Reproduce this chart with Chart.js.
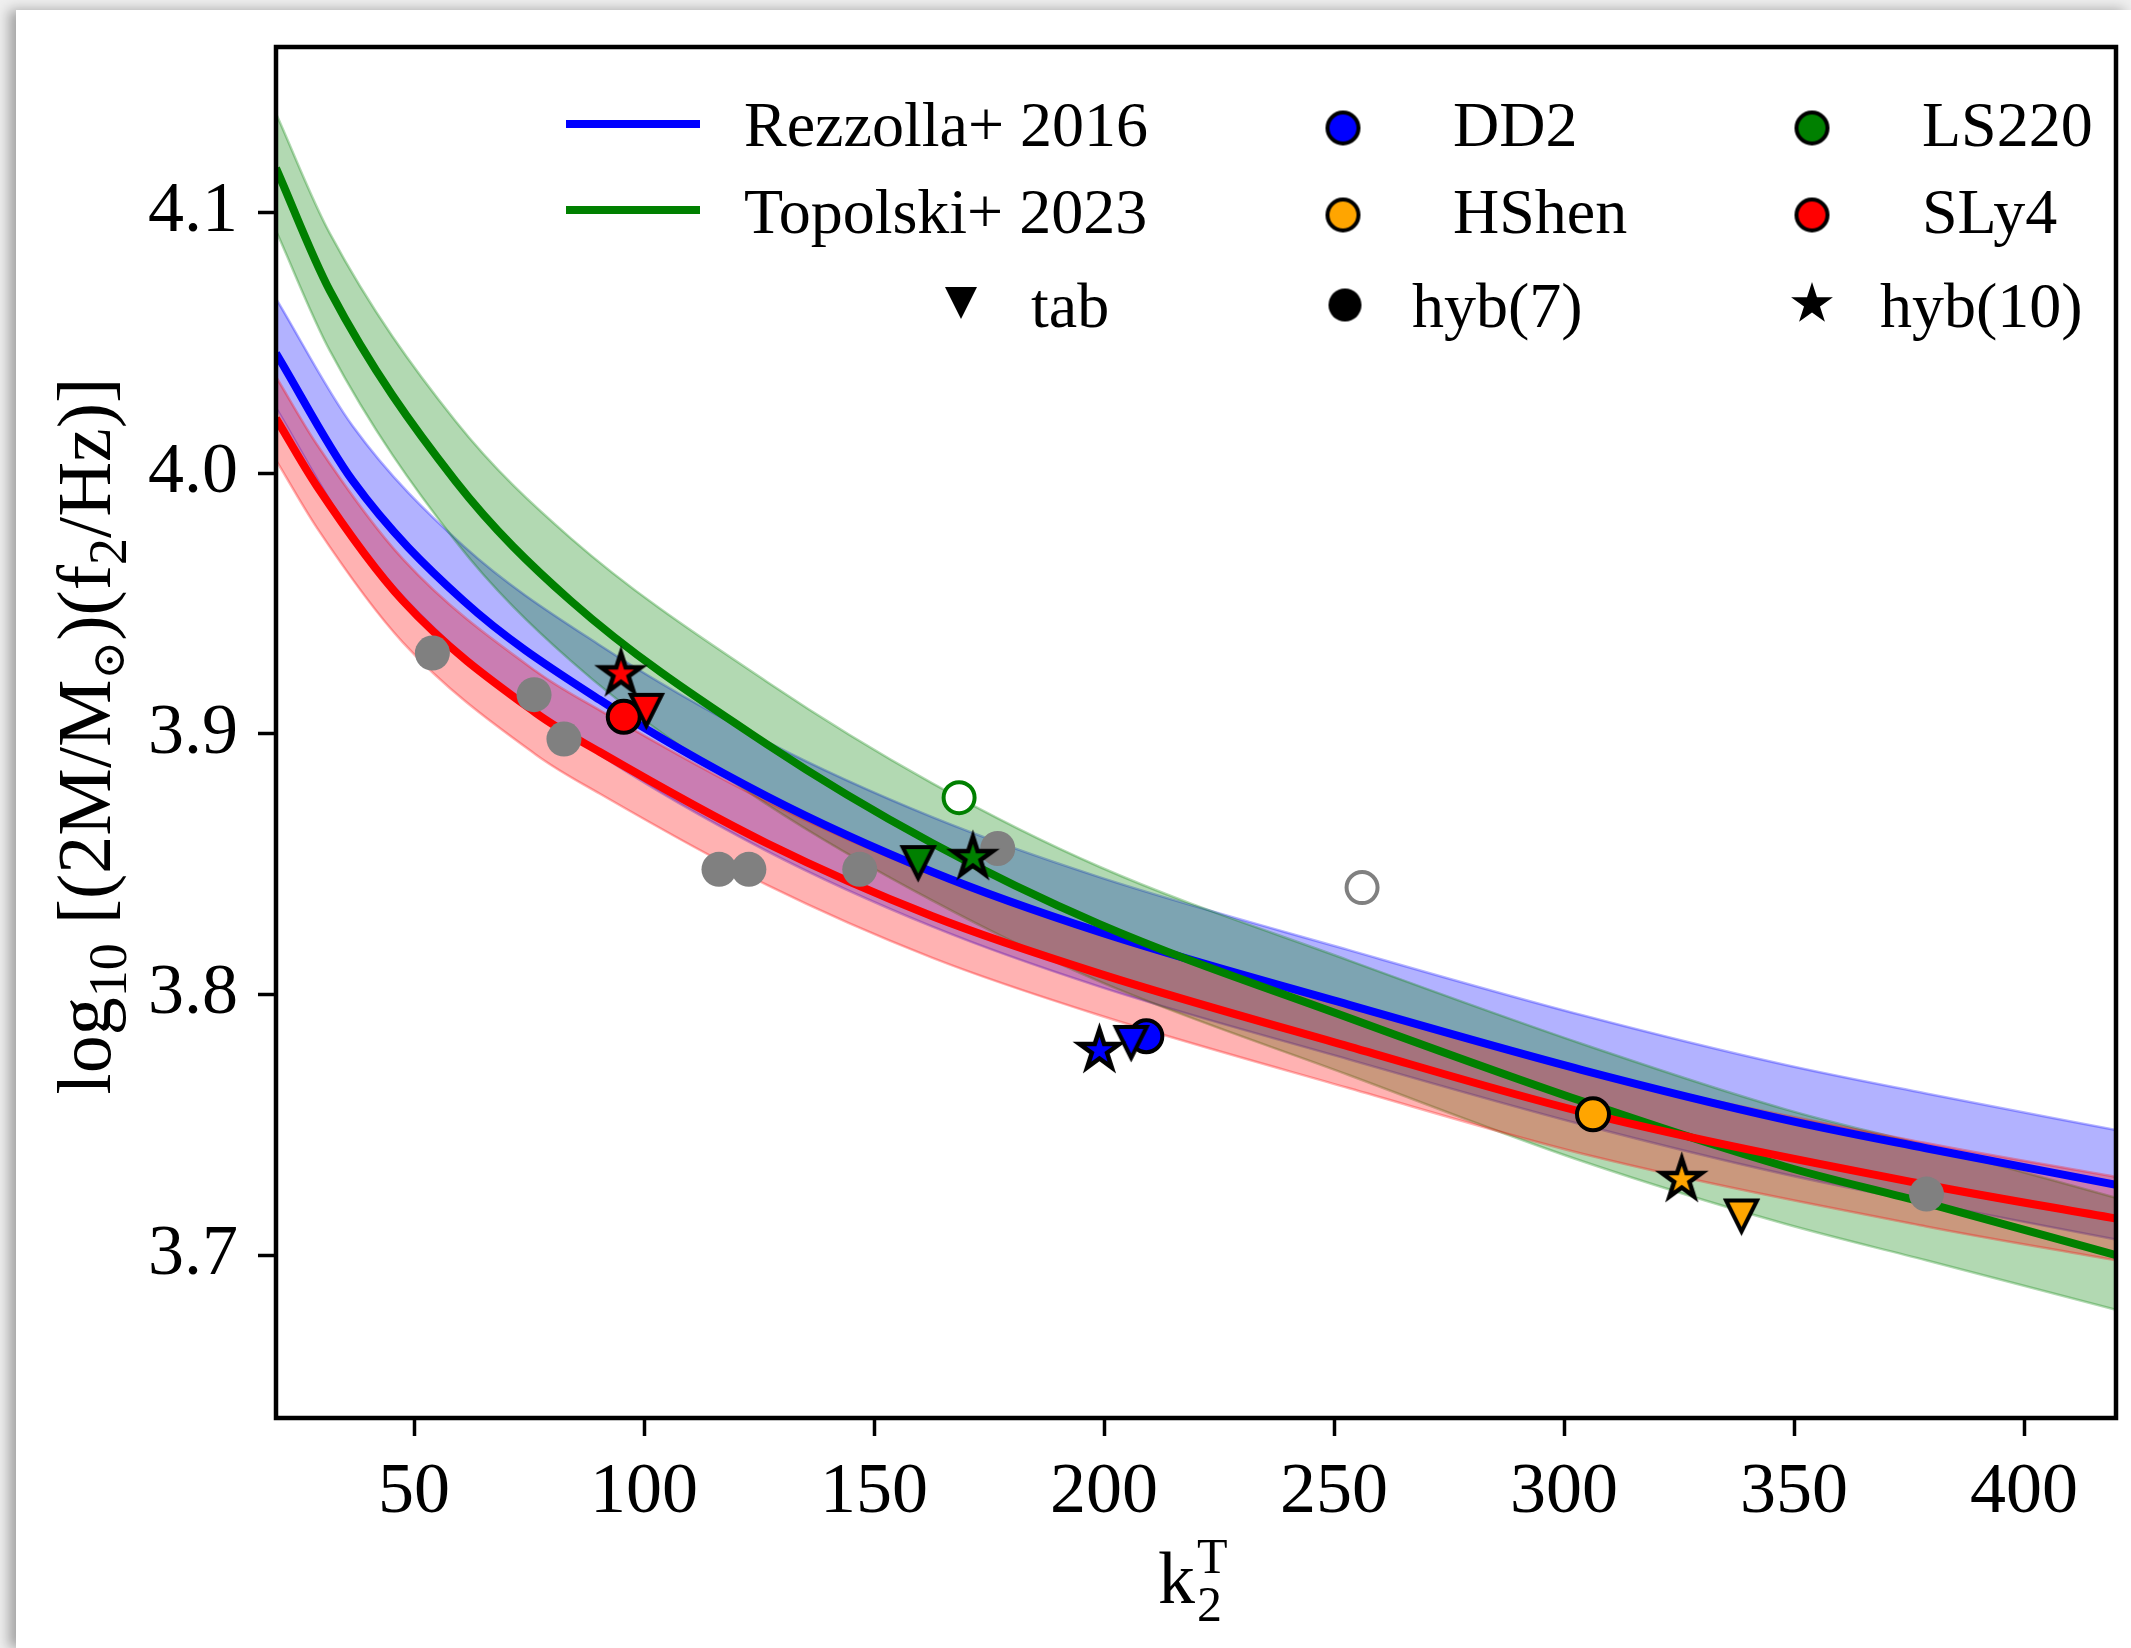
<!DOCTYPE html>
<html>
<head>
<meta charset="utf-8">
<title>log10 f2 vs k2T</title>
<script src="https://cdn.jsdelivr.net/npm/chart.js@4.4.1/dist/chart.umd.min.js"></script>
<style>
html, body { margin: 0; padding: 0; background: #efefef; overflow: hidden; }
#card { position: absolute; left: 16px; top: 10px; width: 2115px; height: 1638px; background: #fff; box-shadow: -7px 0 12px rgba(0,0,0,0.32); }
#wrap { position: absolute; left: 0; top: 0; width: 2131px; height: 1648px; }
</style>
</head>
<body>
<div id="card"></div>
<div id="wrap"><canvas id="chart"></canvas></div>
<script>
// ---- values ----
var xTicks = [50, 100, 150, 200, 250, 300, 350, 400];
var yTicks = [3.7, 3.8, 3.9, 4.0, 4.1];

// Rezzolla+ 2016 fit and its band
var rezK   = [20, 36.7, 60.8, 90.4, 126.7, 162.7, 199, 253.3, 304, 348, 378.7, 420];
var rezMid = [4.046, 3.997, 3.951, 3.913, 3.876, 3.847, 3.824, 3.796, 3.771, 3.752, 3.741, 3.727];
var rezHi  = [4.067, 4.018, 3.972, 3.934, 3.897, 3.868, 3.845, 3.817, 3.792, 3.773, 3.762, 3.748];
var rezLo  = [4.025, 3.976, 3.930, 3.892, 3.855, 3.826, 3.803, 3.775, 3.750, 3.731, 3.720, 3.706];

// Topolski+ 2023 fit and its band
var topK   = [20, 31.7, 59, 84.1, 126.7, 162.7, 199, 253.3, 304, 348, 378.7, 420];
var topMid = [4.117, 4.070, 3.997, 3.951, 3.896, 3.858, 3.827, 3.791, 3.759, 3.734, 3.720, 3.700];
var topHi  = [4.138, 4.092, 4.020, 3.975, 3.920, 3.881, 3.849, 3.813, 3.781, 3.756, 3.742, 3.722];
var topLo  = [4.093, 4.047, 3.974, 3.928, 3.873, 3.836, 3.805, 3.769, 3.736, 3.712, 3.698, 3.679];

// red fit and its band
var redK   = [20, 28.9, 47.6, 76.5, 90.4, 126.7, 162.7, 199, 253.3, 306, 378.7, 420];
var redMid = [4.021, 3.995, 3.951, 3.908, 3.893, 3.858, 3.830, 3.808, 3.780, 3.754, 3.727, 3.714];
var redHi  = [4.037, 4.011, 3.967, 3.924, 3.909, 3.874, 3.846, 3.824, 3.796, 3.770, 3.743, 3.730];
var redLo  = [4.005, 3.979, 3.935, 3.892, 3.877, 3.842, 3.814, 3.792, 3.764, 3.738, 3.711, 3.698];

// EOS points, order DD2, HShen, LS220, SLy4
var tabK   = [205.9, 338.6, 159.6, 100.5];
var tabF   = [3.7816, 3.7150, 3.8506, 3.9090];
var hyb10K = [199.0, 325.6, 171.5, 95.0];
var hyb10F = [3.7785, 3.7290, 3.8525, 3.9230];
// hyb(7): DD2, HShen, SLy4 (LS220 is the open one)
var hyb7K  = [209.2, 306.3, 95.6];
var hyb7F  = [3.7840, 3.7540, 3.9065];
var openK  = [168.5];
var openF  = [3.8755];
// other models in grey
var greyK  = [54.0, 76.1, 82.6, 116.3, 122.8, 146.9, 176.9, 378.8];
var greyF  = [3.931, 3.915, 3.898, 3.848, 3.848, 3.848, 3.856, 3.7234];
var greyOpenK = [256.1];
var greyOpenF = [3.841];

var BLUE = '#0000ff', GREEN = '#008000', RED = '#ff0000', ORANGE = '#ffa500', GREY = '#808080';
var SERIF = '"Liberation Serif", "DejaVu Serif", serif';

function pts(xs, ys) {
    return xs.map(function (x, i) { return { x: x, y: ys[i] }; });
}

// marker glyphs like matplotlib's 'v' and '*'
function markerCanvas(shape, fill, edge, lw, size) {
    var dim = Math.ceil(size + lw * 5 + 6);
    var c = document.createElement('canvas');
    c.width = dim; c.height = dim;
    var g = c.getContext('2d');
    g.translate(dim / 2, dim / 2);
    g.beginPath();
    if (shape === 'tri') {
        var h = size / 2;
        g.moveTo(0, h); g.lineTo(-h, -h); g.lineTo(h, -h); g.closePath();
    } else if (shape === 'star') {
        var r = size / 2, ri = r * 0.381966;
        for (var i = 0; i < 10; i++) {
            var a = -Math.PI / 2 + i * Math.PI / 5;
            var rr = (i % 2) ? ri : r;
            g.lineTo(rr * Math.cos(a), rr * Math.sin(a));
        }
        g.closePath();
    } else {
        g.arc(0, 0, size / 2, 0, Math.PI * 2);
    }
    g.fillStyle = fill; g.fill();
    if (lw > 0) {
        g.lineWidth = lw; g.lineJoin = 'miter'; g.strokeStyle = edge; g.stroke();
    }
    return c;
}

var tabColors = [BLUE, ORANGE, GREEN, RED];
var hyb7Colors = [BLUE, ORANGE, RED];
var tabStyles = tabColors.map(function (c) { return markerCanvas('tri', c, '#000', 4, 31); });
var starStyles = tabColors.map(function (c) { return markerCanvas('star', c, '#000', 4.5, 42); });

function band(xs, ys, color, order) {
    return { data: pts(xs, ys), borderColor: color, borderWidth: 2.5, pointRadius: 0,
             cubicInterpolationMode: 'monotone', fill: false, order: order };
}
function fitLine(xs, ys, color, order) {
    return { data: pts(xs, ys), borderColor: color, borderWidth: 8, pointRadius: 0,
             cubicInterpolationMode: 'monotone', fill: false, order: order };
}

var datasets = [
    band(rezK, rezHi, 'rgba(0,0,255,0.3)', 100),
    band(rezK, rezLo, 'rgba(0,0,255,0.3)', 99),
    band(topK, topHi, 'rgba(0,128,0,0.3)', 98),
    band(topK, topLo, 'rgba(0,128,0,0.3)', 97),
    band(redK, redHi, 'rgba(255,0,0,0.3)', 96),
    band(redK, redLo, 'rgba(255,0,0,0.3)', 95),
    fitLine(rezK, rezMid, BLUE, 90),
    fitLine(topK, topMid, GREEN, 89),
    fitLine(redK, redMid, RED, 88),
    { data: pts(greyK, greyF), showLine: false, pointRadius: 17.5, pointBorderWidth: 0,
      pointBackgroundColor: GREY, pointBorderColor: GREY, order: 20 },
    { data: pts(greyOpenK, greyOpenF), showLine: false, pointRadius: 15.5, pointBorderWidth: 4,
      pointBackgroundColor: '#fff', pointBorderColor: GREY, order: 19 },
    { data: pts(openK, openF), showLine: false, pointRadius: 15.5, pointBorderWidth: 4,
      pointBackgroundColor: '#fff', pointBorderColor: GREEN, order: 18 },
    { data: pts(hyb7K, hyb7F), showLine: false, pointRadius: 16, pointBorderWidth: 4,
      pointBackgroundColor: hyb7Colors, pointBorderColor: '#000', order: 17 },
    { data: pts(tabK, tabF), showLine: false, pointStyle: tabStyles, pointRadius: 17, order: 16 },
    { data: pts(hyb10K, hyb10F), showLine: false, pointStyle: starStyles, pointRadius: 18, order: 15 }
];
// shade between the upper and lower band edges
datasets[1].fill = { target: 0 }; datasets[1].backgroundColor = 'rgba(0,0,255,0.3)';
datasets[3].fill = { target: 2 }; datasets[3].backgroundColor = 'rgba(0,128,0,0.3)';
datasets[5].fill = { target: 4 }; datasets[5].backgroundColor = 'rgba(255,0,0,0.3)';

function drawRuns(ctx, runs, x, y) {
    var w = 0;
    runs.forEach(function (r) { ctx.font = r[1] + 'px ' + SERIF; w += ctx.measureText(r[0]).width; });
    var cx = x - w / 2;
    runs.forEach(function (r) {
        ctx.font = r[1] + 'px ' + SERIF;
        ctx.fillText(r[0], cx, y + r[2]);
        cx += ctx.measureText(r[0]).width;
    });
}

function drawLegend(ctx) {
    ctx.textAlign = 'left';
    ctx.textBaseline = 'alphabetic';
    ctx.fillStyle = '#000';
    ctx.font = '64px ' + SERIF;
    // fit lines
    [[BLUE, 'Rezzolla+ 2016', 124, 146], [GREEN, 'Topolski+ 2023', 210, 233]].forEach(function (e) {
        ctx.strokeStyle = e[0]; ctx.lineWidth = 8;
        ctx.beginPath(); ctx.moveTo(566, e[2]); ctx.lineTo(700, e[2]); ctx.stroke();
        ctx.fillText(e[1], 744, e[3]);
    });
    function put(cv, x, y) { ctx.drawImage(cv, x - cv.width / 2, y - cv.height / 2); }
    // EOS colours
    [[BLUE, 'DD2', 1343, 128, 146], [ORANGE, 'HShen', 1343, 215, 233],
     [GREEN, 'LS220', 1812, 128, 146], [RED, 'SLy4', 1812, 215, 233]].forEach(function (e) {
        put(markerCanvas('circle', e[0], '#000', 4, 31), e[2], e[3]);
        ctx.fillText(e[1], e[2] + 110, e[4]);
    });
    // marker kinds
    put(markerCanvas('tri', '#000', '#000', 0, 32), 961, 303);
    ctx.fillText('tab', 1031, 327);
    put(markerCanvas('circle', '#000', '#000', 0, 33), 1345, 305);
    ctx.fillText('hyb(7)', 1412, 327);
    put(markerCanvas('star', '#000', '#000', 0, 44), 1812, 304);
    ctx.fillText('hyb(10)', 1880, 327);
}

function drawTitles(ctx) {
    ctx.fillStyle = '#000';
    ctx.textAlign = 'left';
    ctx.textBaseline = 'alphabetic';
    // x title: k_2^T
    ctx.font = '74px ' + SERIF;
    ctx.fillText('k', 1158, 1603);
    ctx.font = '50px ' + SERIF;
    ctx.fillText('T', 1197, 1573);
    ctx.fillText('2', 1197, 1621);
    // y title
    ctx.save();
    ctx.translate(110, 736);
    ctx.rotate(-Math.PI / 2);
    drawRuns(ctx, [['log', 76, 0], ['10', 54, 16], [' [(2M/M', 76, 0], ['\u2299', 46, 14],
                   [')(f', 76, 0], ['2', 54, 16], ['/Hz)]', 76, 0]], 0, 0);
    ctx.restore();
}

var decor = {
    id: 'decor',
    afterDraw: function (chart) {
        var ctx = chart.ctx, a = chart.chartArea;
        ctx.save();
        ctx.strokeStyle = '#000';
        ctx.lineWidth = 4.5;
        ctx.strokeRect(a.left, a.top, a.right - a.left, a.bottom - a.top);
        drawLegend(ctx);
        drawTitles(ctx);
        ctx.restore();
    }
};

Chart.defaults.font.family = SERIF;
Chart.defaults.color = '#000';

var ctx = document.getElementById('chart').getContext('2d');
var myChart = new Chart(ctx, {
    type: 'line',
    data: { datasets: datasets },
    plugins: [decor],
    options: {
        responsive: true,
        maintainAspectRatio: false,
        animation: false,
        devicePixelRatio: 1,
        layout: { autoPadding: false, padding: { left: 0, top: 47, right: 15, bottom: 0 } },
        plugins: { legend: { display: false }, tooltip: { enabled: false } },
        scales: {
            x: {
                type: 'linear', position: 'bottom', min: 20, max: 420,
                afterBuildTicks: function (s) { s.ticks = xTicks.map(function (v) { return { value: v }; }); },
                afterFit: function (s) { s.height = 230; s.paddingLeft = 0; s.paddingRight = 0; },
                grid: { drawOnChartArea: false, drawTicks: true, tickLength: 18, tickWidth: 3.5, tickColor: '#000' },
                border: { display: false },
                ticks: { font: { size: 72 }, color: '#000', padding: 14, maxRotation: 0,
                         callback: function (v) { return String(v); } }
            },
            y: {
                type: 'linear', position: 'left', min: 3.6375, max: 4.1635,
                afterBuildTicks: function (s) { s.ticks = yTicks.map(function (v) { return { value: v }; }); },
                afterFit: function (s) { s.width = 276; s.paddingTop = 0; s.paddingBottom = 0; },
                grid: { drawOnChartArea: false, drawTicks: true, tickLength: 18, tickWidth: 3.5, tickColor: '#000' },
                border: { display: false },
                ticks: { font: { size: 72 }, color: '#000', padding: 20,
                         callback: function (v) { return v.toFixed(1); } }
            }
        }
    }
});
</script>
</body>
</html>
